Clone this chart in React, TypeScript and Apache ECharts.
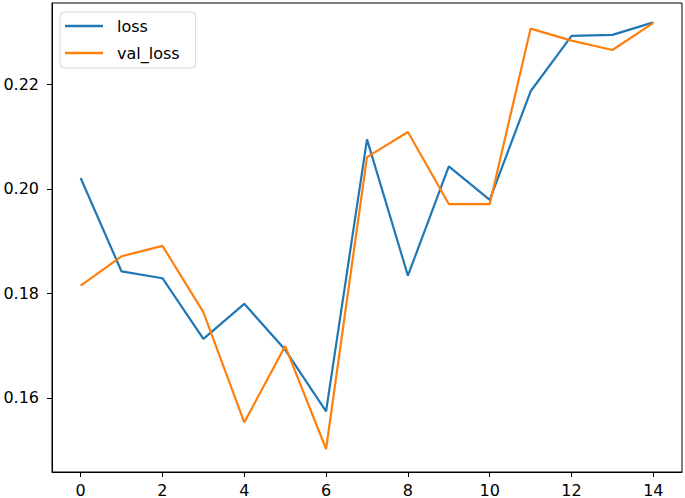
import React, { useEffect, useRef } from "react";
import * as echarts from "echarts";

const epochs = [0, 1, 2, 3, 4, 5, 6, 7, 8, 9, 10, 11, 12, 13, 14];
const loss = [0.2021, 0.1842, 0.1829, 0.1713, 0.178, 0.1692, 0.1574, 0.2095, 0.1834, 0.2043, 0.1979, 0.2187, 0.2293, 0.2295, 0.2319];
const valLoss = [0.1815, 0.1871, 0.1891, 0.1764, 0.1553, 0.1699, 0.1502, 0.2061, 0.2109, 0.1971, 0.1971, 0.2307, 0.2284, 0.2266, 0.2318];
const xTicks = [0, 2, 4, 6, 8, 10, 12, 14];
const yTicks = [0.16, 0.18, 0.2, 0.22];

const FONT = "DejaVu Sans";

export default function App() {
  const ref = useRef<HTMLDivElement>(null);
  useEffect(() => {
    if (!ref.current) return;
    const chart = echarts.init(ref.current, undefined, { renderer: "svg" });
    chart.setOption({
      animation: false,
      grid: {
        left: 52,
        right: 3,
        top: 3,
        bottom: 26,
        show: true,
        borderColor: "#000",
        borderWidth: 1,
        backgroundColor: "#fff",
      },
      legend: {
        left: 60,
        top: 12,
        orient: "vertical",
        icon: "rect",
        itemWidth: 38,
        itemHeight: 2.5,
        itemGap: 11,
        padding: [6, 16, 7, 5],
        borderColor: "#d6d6d6",
        borderWidth: 1,
        borderRadius: 4,
        backgroundColor: "rgba(255,255,255,0.8)",
        textStyle: { fontFamily: FONT, fontSize: 16, color: "#000", padding: [0, 0, 0, 9] },
        data: ["loss", "val_loss"],
      },
      xAxis: {
        type: "value",
        min: -0.7,
        max: 14.7,
        splitLine: { show: false },
        axisLine: { show: true, onZero: false, lineStyle: { color: "#000", width: 1 } },
        axisTick: { show: true, length: 5, customValues: xTicks, lineStyle: { color: "#000" } },
        axisLabel: {
          customValues: xTicks,
          fontFamily: FONT,
          fontSize: 16,
          color: "#000",
          margin: 10,
        },
      },
      yAxis: {
        type: "value",
        min: 0.1458,
        max: 0.2356,
        splitLine: { show: false },
        axisLine: { show: true, onZero: false, lineStyle: { color: "#000", width: 1 } },
        axisTick: { show: true, length: 5, customValues: yTicks, lineStyle: { color: "#000" } },
        axisLabel: {
          customValues: yTicks,
          fontFamily: FONT,
          fontSize: 16,
          color: "#000",
          margin: 13,
          formatter: (v: number) => v.toFixed(2),
        },
      },
      series: [
        {
          name: "loss",
          type: "line",
          data: epochs.map((e, i) => [e, loss[i]]),
          showSymbol: false,
          symbol: "none",
          lineStyle: { color: "#1f77b4", width: 2.2 },
          itemStyle: { color: "#1f77b4" },
        },
        {
          name: "val_loss",
          type: "line",
          data: epochs.map((e, i) => [e, valLoss[i]]),
          showSymbol: false,
          symbol: "none",
          lineStyle: { color: "#ff7f0e", width: 2.2 },
          itemStyle: { color: "#ff7f0e" },
        },
      ],
    });
    return () => chart.dispose();
  }, []);
  return <div ref={ref} style={{ width: 685, height: 498, position: "absolute", left: 0, top: 0 }} />;
}
